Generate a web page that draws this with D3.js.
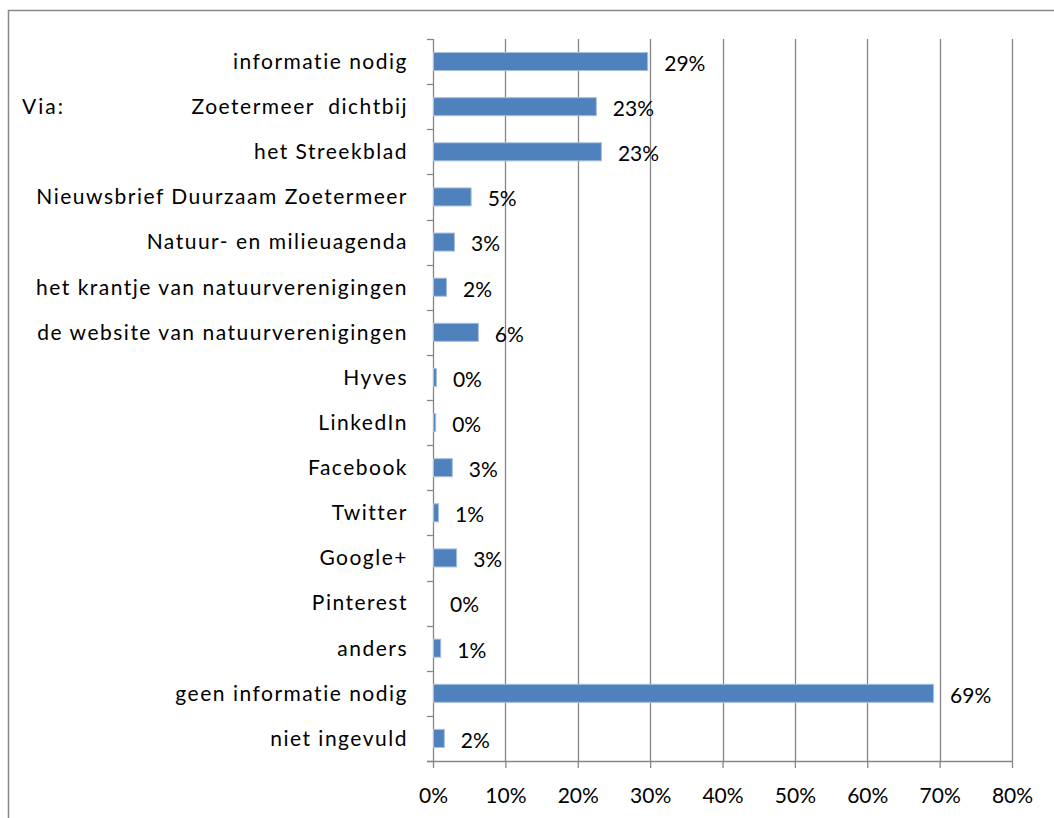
<!DOCTYPE html>
<html>
<head>
<meta charset="utf-8">
<script src="https://cdn.jsdelivr.net/npm/d3@7"></script>
<style>
  body { margin: 0; background: #fff; }
  svg { display: block; font-family: Lato, "Open Sans", sans-serif; }
</style>
</head>
<body>
<svg width="1054" height="818"></svg>
<script>
const categories = [
  'informatie nodig', 'Zoetermeer  dichtbij', 'het Streekblad',
  'Nieuwsbrief Duurzaam Zoetermeer', 'Natuur- en milieuagenda',
  'het krantje van natuurverenigingen', 'de website van natuurverenigingen',
  'Hyves', 'LinkedIn', 'Facebook', 'Twitter', 'Google+', 'Pinterest',
  'anders', 'geen informatie nodig', 'niet ingevuld'
];
const values = [29.6, 22.5, 23.2, 5.2, 2.9, 1.8, 6.2, 0.4, 0.3, 2.6, 0.7, 3.2, 0, 1.0, 69.1, 1.5];
const valueLabels = ['29%', '23%', '23%', '5%', '3%', '2%', '6%', '0%', '0%', '3%', '1%', '3%', '0%', '1%', '69%', '2%'];
const xTicks = [0, 10, 20, 30, 40, 50, 60, 70, 80];

const data = categories.map((c, i) => ({ cat: c, value: values[i], label: valueLabels[i] }));

const svg = d3.select('svg');
const margin = { left: 433, right: 42, top: 39, bottom: 57 };
const width = 1054 - margin.left - margin.right;
const height = 818 - margin.top - margin.bottom;

// chart frame
svg.append('rect')
  .attr('x', 8.5).attr('y', 10.5)
  .attr('width', 1100).attr('height', 900)
  .attr('fill', 'none').attr('stroke', '#888').attr('stroke-width', 1.5);

const g = svg.append('g').attr('transform', `translate(${margin.left}, ${margin.top})`);

const x = d3.scaleLinear().domain([0, 80]).range([0, width]);
const y = d3.scaleBand().domain(categories).range([0, height]).paddingInner(0.6).paddingOuter(0.3);
const band = d3.scaleBand().domain(categories).range([0, height]);

// vertical gridlines
g.selectAll('.grid')
  .data(xTicks.slice(1))
  .enter().append('line')
  .attr('x1', d => Math.round(x(d)) + 0.5).attr('x2', d => Math.round(x(d)) + 0.5)
  .attr('y1', 0).attr('y2', height)
  .attr('stroke', '#868686').attr('stroke-width', 1.3);

// x axis
const xAxis = g.append('g')
  .attr('transform', `translate(0, ${height})`)
  .call(d3.axisBottom(x).tickValues(xTicks).tickFormat(d => d + '%').tickSize(7).tickSizeOuter(0).tickPadding(20));
xAxis.select('.domain').attr('stroke', '#868686').attr('stroke-width', 1.3).attr('d', `M-6,0.5H${width}`);
xAxis.selectAll('.tick line').attr('stroke', '#868686').attr('stroke-width', 1.3);
xAxis.selectAll('.tick text').attr('font-size', 21).attr('fill', '#000')
  .attr('font-family', 'Lato, sans-serif');

// category axis with ticks at band boundaries
const boundaries = categories.map(c => band(c)).concat([height]);
g.append('line')
  .attr('x1', 0.5).attr('x2', 0.5).attr('y1', 0).attr('y2', height)
  .attr('stroke', '#868686').attr('stroke-width', 1.3);
g.selectAll('.ytick')
  .data(boundaries)
  .enter().append('line')
  .attr('x1', -6).attr('x2', 0)
  .attr('y1', d => Math.round(d) + 0.5).attr('y2', d => Math.round(d) + 0.5)
  .attr('stroke', '#868686').attr('stroke-width', 1.3);

g.selectAll('.cat')
  .data(data)
  .enter().append('text')
  .attr('x', -25)
  .attr('y', d => band(d.cat) + band.bandwidth() / 2)
  .attr('dy', '0.35em')
  .attr('text-anchor', 'end')
  .attr('font-size', 21)
  .attr('letter-spacing', 1.5)
  .style('white-space', 'pre')
  .text(d => d.cat);

svg.append('text')
  .attr('x', 22)
  .attr('y', margin.top + band(categories[1]) + band.bandwidth() / 2)
  .attr('dy', '0.35em')
  .attr('font-size', 21)
  .attr('letter-spacing', 2)
  .text('Via:');

// bars
g.selectAll('.bar')
  .data(data)
  .enter().append('rect')
  .attr('x', 0.5)
  .attr('y', d => y(d.cat))
  .attr('width', d => x(d.value))
  .attr('height', y.bandwidth())
  .attr('fill', '#4F81BD')
  .attr('stroke', d => d.value > 0 ? '#A7C0DE' : 'none')
  .attr('stroke-width', 1);

// value labels
g.selectAll('.val')
  .data(data)
  .enter().append('text')
  .attr('x', d => x(d.value) + 17)
  .attr('y', d => band(d.cat) + band.bandwidth() / 2 + 2)
  .attr('dy', '0.35em')
  .attr('font-size', 21)
  .text(d => d.label);
</script>
</body>
</html>
